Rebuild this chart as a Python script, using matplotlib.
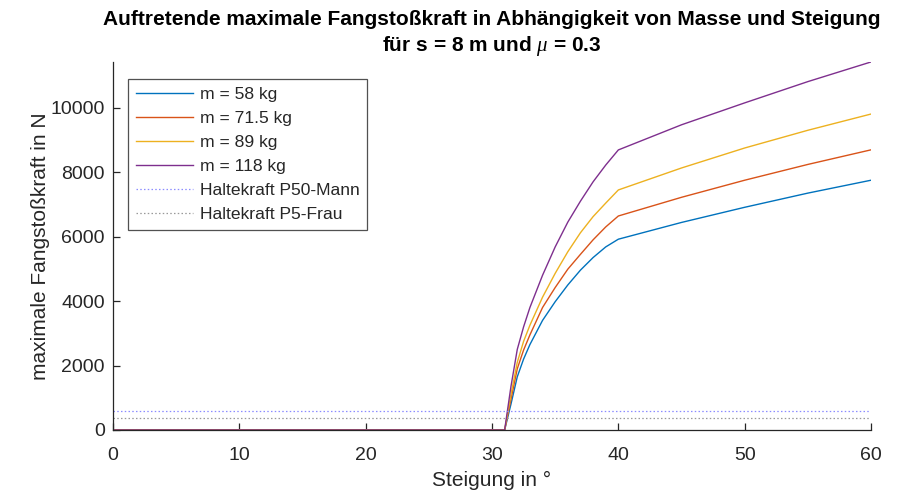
import matplotlib
matplotlib.use("Agg")
import matplotlib.pyplot as plt

plt.rcParams['font.family'] = ['Liberation Sans', 'DejaVu Sans']
plt.rcParams['mathtext.fontset'] = 'custom'
plt.rcParams['mathtext.it'] = 'Liberation Serif:italic'

# Slope angle in degrees
steigung = [0, 31, 31.5, 32, 32.5, 33, 34, 35, 36, 37, 38, 39, 40, 45, 50, 55, 60]

# Maximum arrest force in N for each mass
kraft_58 = [0, 0, 800, 1650, 2200, 2650, 3400, 3980, 4500, 4960, 5350, 5680, 5920, 6440, 6910, 7350, 7750]
kraft_71_5 = [0, 0, 950, 1900, 2480, 2950, 3800, 4420, 4990, 5450, 5900, 6300, 6640, 7220, 7750, 8240, 8693]
kraft_89 = [0, 0, 1100, 2100, 2750, 3250, 4120, 4860, 5530, 6120, 6620, 7040, 7448, 8130, 8750, 9300, 9804]
kraft_118 = [0, 0, 1350, 2500, 3200, 3800, 4800, 5680, 6450, 7100, 7700, 8220, 8690, 9470, 10150, 10810, 11420]

massen = ['58', '71.5', '89', '118']
farben = ['#0072BD', '#D95319', '#EDB120', '#7E2F8E']

# Holding forces
haltekraft_mann = 580
haltekraft_frau = 375

fig = plt.figure(figsize=(9.06, 4.94), dpi=100)
ax = fig.add_axes([0.1247, 0.1296, 0.8367, 0.745])

for werte, m, c in zip([kraft_58, kraft_71_5, kraft_89, kraft_118], massen, farben):
    ax.plot(steigung, werte, color=c, lw=1.0, label=f'm = {m} kg')

ax.axhline(haltekraft_mann, color='#8C8CFF', lw=0.9, ls=(0, (1.2, 1.8)), label='Haltekraft P50-Mann')
ax.axhline(haltekraft_frau, color='#999999', lw=0.9, ls=(0, (1.2, 1.8)), label='Haltekraft P5-Frau')

ax.set_xlim(0, 60)
ax.set_ylim(0, 11420)
ax.set_xticks([0, 10, 20, 30, 40, 50, 60])
ax.set_yticks([0, 2000, 4000, 6000, 8000, 10000])

for s in ['top', 'right']:
    ax.spines[s].set_visible(False)
for s in ['left', 'bottom']:
    ax.spines[s].set_color('#262626')
    ax.spines[s].set_linewidth(0.9)
ax.tick_params(direction='in', length=5, width=0.9, colors='#262626', labelsize=14)
ax.tick_params(axis='x', pad=12)
ax.tick_params(axis='y', pad=6)

ax.set_xlabel('Steigung in °', fontsize=15, color='#262626', labelpad=5)
ax.set_ylabel('maximale Fangstoßkraft in N', fontsize=15, color='#262626', labelpad=0)
ax.set_title('Auftretende maximale Fangstoßkraft in Abhängigkeit von Masse und Steigung\n'
             'für s = 8 m und $\\mu$ = 0.3', fontsize=15, fontweight='bold', color='black',
             pad=8, linespacing=1.3)

leg = ax.legend(loc='upper left', fontsize=12.6, frameon=True, fancybox=False,
                edgecolor='#262626', handlelength=3.25, borderpad=0.45, labelspacing=0.5,
                handletextpad=0.38, borderaxespad=0, bbox_to_anchor=(0.0202, 0.953))
leg.get_frame().set_linewidth(0.9)
for t in leg.get_texts():
    t.set_color('#262626')

fig.savefig('out.png', dpi=100)
